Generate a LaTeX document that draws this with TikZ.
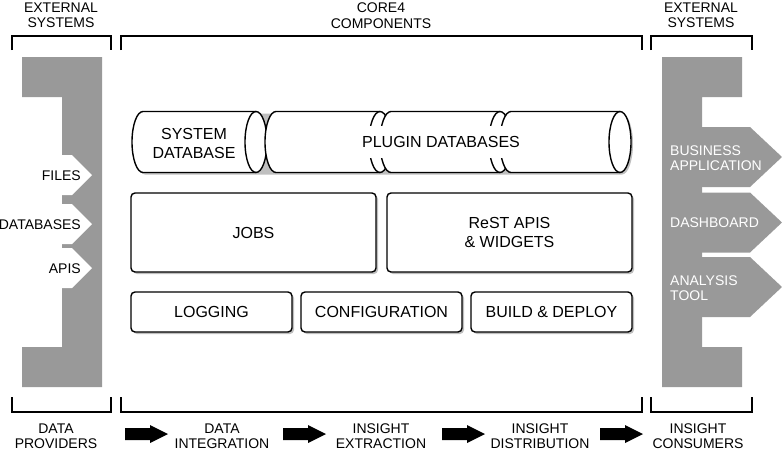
\documentclass[tikz,border=0pt]{standalone}
\usepackage{fontspec}
\setmainfont{Liberation Sans}
\usetikzlibrary{shadows}

\definecolor{sidegray}{HTML}{999999}

% horizontal database cylinder: left end centre, right end centre
\newcommand{\dbcyl}[2]{%
  \draw[cylline, fill=white] (#1,-111.5) -- (#2,-111.5)
    arc[start angle=90, end angle=-90, x radius=11, y radius=30.5] -- (#1,-172.5)
    arc[start angle=270, end angle=90, x radius=11, y radius=30.5] -- cycle;
  \draw[cylline] (#2,-111.5) arc[start angle=90, end angle=270, x radius=11, y radius=30.5];
}

\tikzset{
  lbl/.style={font=\fontsize{14}{15.5}\selectfont, align=center, inner sep=0pt},
  boxlbl/.style={font=\fontsize{16}{19}\selectfont, align=center, inner sep=0pt},
  bracket/.style={line width=1.4pt, line cap=butt, line join=miter},
  cylline/.style={line width=1.4pt},
  part/.style={draw, line width=1.4pt, fill=white, rounded corners=4pt,
    drop shadow={shadow xshift=2pt, shadow yshift=-2pt, opacity=0.25, fill=black}},
}

\begin{document}
\begin{tikzpicture}[x=1pt, y=1pt, line join=round]
  \useasboundingbox (0,0) rectangle (782,-450);

  % Header labels
  \node[lbl] (extin) at (61,-15.5) {EXTERNAL\\SYSTEMS};
  \node[lbl] (core) at (381,-15.5) {CORE4\\COMPONENTS};
  \node[lbl] (extout) at (701,-15.5) {EXTERNAL\\SYSTEMS};

  % Top brackets
  \draw[bracket] (12,-50) -- (12,-36) -- (111,-36) -- (111,-50);
  \draw[bracket] (121,-50) -- (121,-36) -- (642,-36) -- (642,-50);
  \draw[bracket] (651,-50) -- (651,-36) -- (752,-36) -- (752,-50);

  % Bottom brackets
  \draw[bracket] (12,-397) -- (12,-412) -- (111,-412) -- (111,-397);
  \draw[bracket] (121,-397) -- (121,-412) -- (642,-412) -- (642,-397);
  \draw[bracket] (651,-397) -- (651,-412) -- (752,-412) -- (752,-397);

  % Data providers (left)
  \fill[sidegray] (22,-57) -- (102,-57) -- (102,-387) -- (22,-387) -- (22,-347)
    -- (62,-347) -- (62,-97) -- (22,-97) -- cycle;
  \foreach \c in {175,224,268}
    \fill[white] (40,-\c+20) -- (72,-\c+20) -- (92,-\c) -- (72,-\c-20) -- (40,-\c-20) -- cycle;
  \node[lbl, anchor=east] (files) at (81,-175.5) {FILES};
  \node[lbl, anchor=east] (dbs) at (81,-224.5) {DATABASES};
  \node[lbl, anchor=east] (apis) at (81,-268.5) {APIS};

  % Insight consumers (right)
  \fill[sidegray] (662,-57) -- (742,-57) -- (742,-97) -- (702,-97) -- (702,-347)
    -- (742,-347) -- (742,-387) -- (662,-387) -- cycle;
  \foreach \c in {157,222.5,287}
    \fill[sidegray] (700,-\c+30) -- (750,-\c+30) -- (782,-\c) -- (750,-\c-30) -- (700,-\c-30) -- cycle;
  \node[lbl, white, anchor=west, align=left] (bizapp) at (670,-158) {BUSINESS\\APPLICATION};
  \node[lbl, white, anchor=west, align=left] (dash) at (670,-223) {DASHBOARD};
  \node[lbl, white, anchor=west, align=left] (tool) at (670,-288) {ANALYSIS\\TOOL};

  % Databases
  \fill[black, opacity=0.25] (145,-113.5) -- (622,-113.5)
    arc[start angle=90, end angle=-90, x radius=11, y radius=30.5] -- (145,-174.5)
    arc[start angle=270, end angle=90, x radius=11, y radius=30.5] -- cycle;
  \dbcyl{143}{256}
  \dbcyl{276}{380}
  \dbcyl{391}{500}
  \dbcyl{511}{620}
  \node[boxlbl] (sysdb) at (194,-143) {SYSTEM\\DATABASE};
  \node[boxlbl, fill=white, inner xsep=10pt, inner ysep=10pt] (plugdb) at (441,-142) {PLUGIN DATABASES};

  % Components
  \node[part, boxlbl, minimum width=245, minimum height=79] (jobs) at (253.5,-232.5) {JOBS};
  \node[part, boxlbl, minimum width=245, minimum height=79] (rest) at (509.5,-232.5) {ReST APIS\\\& WIDGETS};
  \node[part, boxlbl, minimum width=161, minimum height=40] (log) at (211.5,-312) {LOGGING};
  \node[part, boxlbl, minimum width=161, minimum height=40] (conf) at (381.5,-312) {CONFIGURATION};
  \node[part, boxlbl, minimum width=161, minimum height=40] (build) at (551.5,-312) {BUILD \& DEPLOY};

  % Bottom stages
  \node[lbl] (prov) at (56,-436) {DATA\\PROVIDERS};
  \node[lbl] (integ) at (222,-436) {DATA\\INTEGRATION};
  \node[lbl] (extr) at (381,-436) {INSIGHT\\EXTRACTION};
  \node[lbl] (distr) at (540,-436) {INSIGHT\\DISTRIBUTION};
  \node[lbl] (cons) at (698,-436) {INSIGHT\\CONSUMERS};

  % Block arrows between stages
  \foreach \x in {125,283,442,600}
    \fill[black] (\x,-428) -- (\x+25,-428) -- (\x+25,-425) -- (\x+43,-434)
      -- (\x+25,-443) -- (\x+25,-440) -- (\x,-440) -- cycle;
\end{tikzpicture}
\end{document}
